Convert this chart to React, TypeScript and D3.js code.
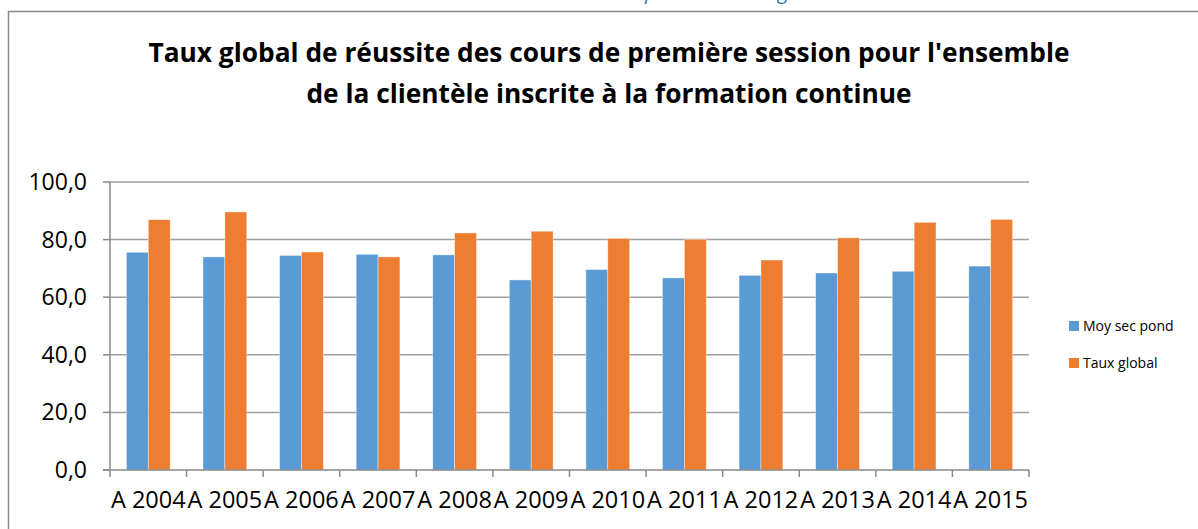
import React from 'react';
import * as d3 from 'd3';

// Data
const years = ['A 2004', 'A 2005', 'A 2006', 'A 2007', 'A 2008', 'A 2009', 'A 2010', 'A 2011', 'A 2012', 'A 2013', 'A 2014', 'A 2015'];
const moySecPond = [75.6, 74.0, 74.5, 74.9, 74.7, 66.0, 69.6, 66.7, 67.6, 68.4, 69.0, 70.8];
const tauxGlobal = [86.9, 89.6, 75.7, 74.0, 82.3, 82.9, 80.4, 80.1, 72.9, 80.6, 86.0, 87.0];
const seriesNames = ['Moy sec pond', 'Taux global'];
const yTicks = [0, 20, 40, 60, 80, 100];
const titleLines = [
  "Taux global de réussite des cours de première session pour l'ensemble",
  'de la clientèle inscrite à la formation continue',
];

const W = 1198;
const H = 529;
const colors = ['#5B9BD5', '#ED7D31'];
const font = '"Open Sans", "Noto Sans", sans-serif';

export default function App() {
  const plot = { left: 110, right: 1029, top: 182, bottom: 470 };

  const x = d3.scaleBand<string>().domain(years).range([plot.left, plot.right]).padding(0);
  const step = x.step();
  const barW = step / 3.5; // Excel gap width 150%
  const x1 = d3.scaleBand<string>()
    .domain(seriesNames)
    .range([0.75 * barW, 0.75 * barW + 2 * barW])
    .padding(0);

  const y = d3.scaleLinear().domain([0, 100]).range([plot.bottom, plot.top]);
  const fmt = (v: number) => d3.format('.1f')(v).replace('.', ',');

  const series = [moySecPond, tauxGlobal];

  return (
    <svg width={W} height={H} style={{ position: 'absolute', left: 0, top: 0, background: '#fff' }}>
      {/* fragments of a caption cut off above the chart */}
      <text x={645} y={-1} fontFamily={font} fontStyle="italic" fontSize={20} fill="#2E75B6">p</text>
      <text x={778} y={-1} fontFamily={font} fontStyle="italic" fontSize={20} fill="#2E75B6">g</text>

      {/* chart border */}
      <rect x={8.5} y={11.5} width={W + 20} height={H + 20} fill="none" stroke="#898989" strokeWidth={1.5} />

      {/* title */}
      {titleLines.map((t, i) => (
        <text key={i} x={609} y={62 + i * 41} textAnchor="middle" fontFamily={font} fontWeight="bold" fontSize={26.3} fill="#000">
          {t}
        </text>
      ))}

      {/* gridlines */}
      {yTicks.filter(t => t > 0).map(t => (
        <line key={t} x1={plot.left} x2={plot.right} y1={y(t)} y2={y(t)} stroke="#A0A0A0" strokeWidth={1.5} />
      ))}

      {/* bars */}
      {years.map((yr, i) => (
        <g key={yr} transform={`translate(${x(yr)},0)`}>
          {series.map((s, j) => (
            <rect
              key={j}
              x={x1(seriesNames[j])}
              y={y(s[i])}
              width={x1.bandwidth()}
              height={y(0) - y(s[i])}
              fill={colors[j]}
              stroke="#fff"
              strokeOpacity={0.5}
              strokeWidth={0.75}
            />
          ))}
        </g>
      ))}

      {/* y axis */}
      <line x1={plot.left} x2={plot.left} y1={plot.top} y2={plot.bottom} stroke="#898989" strokeWidth={1.5} />
      {yTicks.map(t => (
        <g key={t}>
          <line x1={plot.left - 7} x2={plot.left} y1={y(t)} y2={y(t)} stroke="#898989" strokeWidth={1.5} />
          <text x={87} y={y(t)} dy="0.35em" textAnchor="end" fontFamily={font} fontSize={23} fill="#000">
            {fmt(t)}
          </text>
        </g>
      ))}

      {/* x axis */}
      <line x1={plot.left - 7} x2={plot.right} y1={plot.bottom} y2={plot.bottom} stroke="#898989" strokeWidth={1.5} />
      {[...years.map(yr => x(yr) as number), plot.right].map((px, i) => (
        <line key={i} x1={px} x2={px} y1={plot.bottom} y2={plot.bottom + 7} stroke="#898989" strokeWidth={1.5} />
      ))}
      {years.map(yr => (
        <text key={yr} x={(x(yr) as number) + step / 2} y={508} textAnchor="middle" fontFamily={font} fontSize={23.5} fill="#000">
          {yr}
        </text>
      ))}

      {/* legend */}
      {seriesNames.map((n, i) => (
        <g key={n} transform={`translate(1069,${321 + i * 37})`}>
          <rect width={10} height={10} fill={colors[i]} />
          <text x={14} y={5} dy="0.35em" fontFamily={font} fontSize={14} fill="#000">{n}</text>
        </g>
      ))}
    </svg>
  );
}
